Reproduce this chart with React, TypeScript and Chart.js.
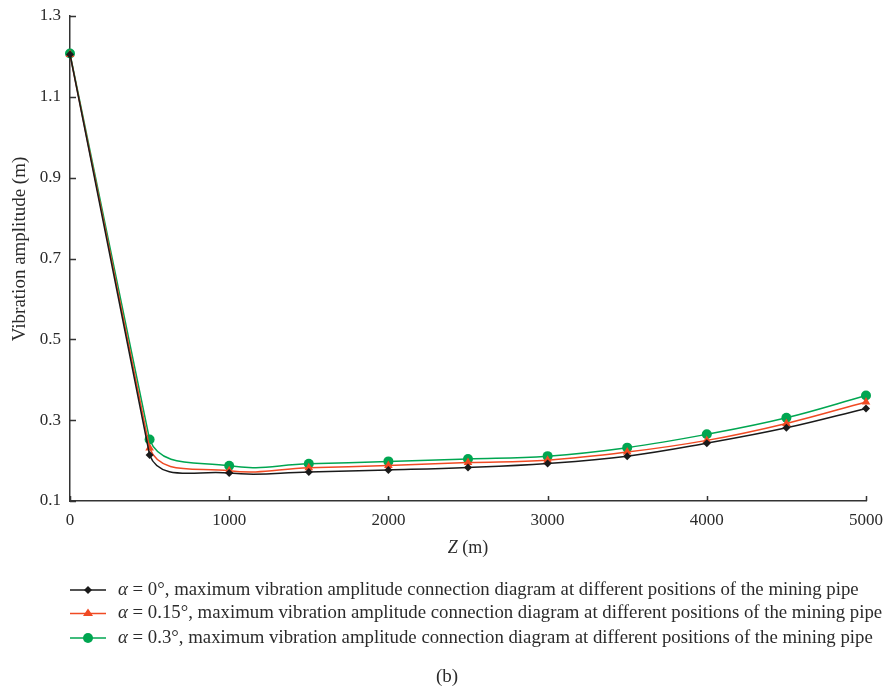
import React, { useEffect, useRef } from "react";
import { Chart, registerables } from "chart.js";

Chart.register(...registerables);

// Positions along the mining pipe (m)
const positions = [0, 500, 1000, 1500, 2000, 2500, 3000, 3500, 4000, 4500, 5000];

// Maximum vibration amplitude (m) for each inclination angle
const amplitudeAlpha0 = [1.205, 0.214, 0.169, 0.172, 0.177, 0.183, 0.193, 0.211, 0.243, 0.281, 0.329];
const amplitudeAlpha015 = [1.205, 0.231, 0.175, 0.182, 0.188, 0.195, 0.201, 0.221, 0.25, 0.292, 0.345];
const amplitudeAlpha03 = [1.207, 0.252, 0.187, 0.192, 0.198, 0.204, 0.211, 0.232, 0.265, 0.306, 0.361];

const yTickValues = [0.1, 0.3, 0.5, 0.7, 0.9, 1.1, 1.3];
const xTickValues = [0, 1000, 2000, 3000, 4000, 5000];

const yTitle = "Vibration amplitude (m)";
const seriesAngles = ["0°", "0.15°", "0.3°"];
const legendSuffix = ", maximum vibration amplitude connection diagram at different positions of the mining pipe";
const caption = "(b)";

const SERIF = "'Liberation Serif', 'Times New Roman', serif";
const AXIS_COLOR = "#333333";
const TEXT_COLOR = "#2b2b2b";
const COLORS = ["#1a1a1a", "#f04a23", "#00a651"];
const POINT_STYLES = ["rectRot", "triangle", "circle"];
const POINT_RADII = [4, 5, 5];

function drawMarker(ctx: CanvasRenderingContext2D, style: string, x: number, y: number, r: number, color: string) {
  ctx.save();
  ctx.fillStyle = color;
  ctx.beginPath();
  if (style === "rectRot") {
    ctx.moveTo(x, y - r);
    ctx.lineTo(x + r, y);
    ctx.lineTo(x, y + r);
    ctx.lineTo(x - r, y);
  } else if (style === "triangle") {
    const h = r * 1.5;
    ctx.moveTo(x, y - h * 0.67);
    ctx.lineTo(x + r, y + h * 0.33);
    ctx.lineTo(x - r, y + h * 0.33);
  } else {
    ctx.arc(x, y, r, 0, Math.PI * 2);
  }
  ctx.closePath();
  ctx.fill();
  ctx.restore();
}

// Keep the first segment (surface to 500 m) straight; the rest stays smoothed
const straightFirstSegment = {
  id: "straightFirstSegment",
  beforeDatasetDraw(chart: any, args: any) {
    const meta = args.meta;
    const line = meta.dataset;
    if (!line || !line.updateControlPoints) return;
    line.updateControlPoints(chart.chartArea, meta.iScale.axis);
    const pts = meta.data;
    if (pts.length < 2) return;
    const p0 = pts[0];
    const p1 = pts[1];
    const dx = (p1.x - p0.x) / 3;
    const dy = (p1.y - p0.y) / 3;
    p0.cp2x = p0.x + dx;
    p0.cp2y = p0.y + dy;
    p1.cp1x = p1.x - dx;
    p1.cp1y = p1.y - dy;
  },
};

// Inward tick marks, axis titles, legend rows and caption
const decorations = {
  id: "decorations",
  afterDraw(chart: any) {
    const ctx: CanvasRenderingContext2D = chart.ctx;
    const { left, right, bottom } = chart.chartArea;
    const xs = chart.scales.x;
    const ys = chart.scales.y;

    ctx.save();
    ctx.strokeStyle = AXIS_COLOR;
    ctx.lineWidth = 1.5;
    ctx.beginPath();
    yTickValues.forEach((v) => {
      const py = Math.round(ys.getPixelForValue(v)) + 0.5;
      ctx.moveTo(left, py);
      ctx.lineTo(left + 6, py);
    });
    xTickValues.forEach((v) => {
      const px = Math.round(xs.getPixelForValue(v)) + 0.5;
      ctx.moveTo(px, bottom);
      ctx.lineTo(px, bottom - 5);
    });
    ctx.stroke();
    ctx.restore();

    // Y axis title, rotated
    ctx.save();
    ctx.fillStyle = TEXT_COLOR;
    ctx.font = `19px ${SERIF}`;
    ctx.textAlign = "center";
    ctx.textBaseline = "middle";
    ctx.translate(20, 249);
    ctx.rotate(-Math.PI / 2);
    ctx.fillText(yTitle, 0, 0);
    ctx.restore();

    // X axis title: italic Z followed by the unit
    ctx.save();
    ctx.fillStyle = TEXT_COLOR;
    ctx.textBaseline = "middle";
    ctx.textAlign = "left";
    ctx.font = `italic 18px ${SERIF}`;
    const zW = ctx.measureText("Z").width;
    ctx.font = `18px ${SERIF}`;
    const unitW = ctx.measureText(" (m)").width;
    const tx = (left + right) / 2 - (zW + unitW) / 2;
    ctx.font = `italic 18px ${SERIF}`;
    ctx.fillText("Z", tx, 548);
    ctx.font = `18px ${SERIF}`;
    ctx.fillText(" (m)", tx + zW, 548);
    ctx.restore();

    // Legend
    const rowY = [590, 613.5, 638];
    ctx.save();
    ctx.textBaseline = "middle";
    seriesAngles.forEach((angle, i) => {
      const y = rowY[i];
      ctx.strokeStyle = COLORS[i];
      ctx.lineWidth = 1.5;
      ctx.beginPath();
      ctx.moveTo(70, y);
      ctx.lineTo(106, y);
      ctx.stroke();
      drawMarker(ctx, POINT_STYLES[i], 88, y, POINT_RADII[i], COLORS[i]);

      ctx.fillStyle = TEXT_COLOR;
      ctx.textAlign = "left";
      ctx.font = `italic 18.8px ${SERIF}`;
      ctx.fillText("α", 118, y);
      const aw = ctx.measureText("α").width;
      ctx.font = `18.8px ${SERIF}`;
      ctx.fillText(` = ${angle}${legendSuffix}`, 118 + aw, y);
    });

    ctx.fillStyle = TEXT_COLOR;
    ctx.textAlign = "center";
    ctx.font = `19px ${SERIF}`;
    ctx.fillText(caption, 447, 677);
    ctx.restore();
  },
};

export default function App() {
  const canvasRef = useRef<HTMLCanvasElement | null>(null);

  useEffect(() => {
    const canvas = canvasRef.current;
    if (!canvas) return;

    const makeSeries = (values: number[], i: number) => ({
      label: `α = ${seriesAngles[i]}`,
      data: positions.map((x, k) => ({ x, y: values[k] })),
      borderColor: COLORS[i],
      backgroundColor: COLORS[i],
      borderWidth: 1.5,
      pointStyle: POINT_STYLES[i],
      pointRadius: POINT_RADII[i],
      pointHoverRadius: POINT_RADII[i],
      pointBorderWidth: 0,
      tension: 0.4,
      fill: false,
      clip: false as any,
    });

    const chart = new Chart(canvas, {
      type: "line",
      data: {
        datasets: [
          makeSeries(amplitudeAlpha0, 0),
          makeSeries(amplitudeAlpha015, 1),
          makeSeries(amplitudeAlpha03, 2),
        ],
      },
      options: {
        responsive: false,
        animation: false,
        devicePixelRatio: 1,
        layout: { padding: { left: 0, top: 16, right: 21, bottom: 133 } },
        plugins: {
          legend: { display: false },
          tooltip: { enabled: false },
        },
        scales: {
          x: {
            type: "linear",
            min: 0,
            max: 5000,
            afterBuildTicks: (axis: any) => {
              axis.ticks = xTickValues.map((value) => ({ value }));
            },
            afterFit: (axis: any) => {
              axis.height = 56;
              axis.paddingLeft = 0;
              axis.paddingRight = 0;
            },
            grid: { display: false, drawTicks: false },
            border: { display: true, color: AXIS_COLOR, width: 1.5 },
            ticks: {
              padding: 9,
              color: TEXT_COLOR,
              font: { family: SERIF, size: 17 },
              maxRotation: 0,
              callback: (v: any) => String(v),
            },
            title: { display: false },
          },
          y: {
            type: "linear",
            min: 0.1,
            max: 1.3,
            afterBuildTicks: (axis: any) => {
              axis.ticks = yTickValues.map((value) => ({ value }));
            },
            afterFit: (axis: any) => {
              axis.width = 70;
              axis.paddingTop = 0;
              axis.paddingBottom = 0;
            },
            grid: { display: false, drawTicks: false },
            border: { display: true, color: AXIS_COLOR, width: 1.5 },
            ticks: {
              padding: 9,
              color: TEXT_COLOR,
              font: { family: SERIF, size: 17 },
              callback: (v: any) => Number(v).toFixed(1),
            },
            title: { display: false },
          },
        },
      },
      plugins: [straightFirstSegment, decorations],
    });

    return () => chart.destroy();
  }, []);

  return (
    <div style={{ position: "absolute", left: 0, top: 0, width: 887, height: 690, background: "#ffffff" }}>
      <canvas ref={canvasRef} width={887} height={690} style={{ width: 887, height: 690, display: "block" }} />
    </div>
  );
}
